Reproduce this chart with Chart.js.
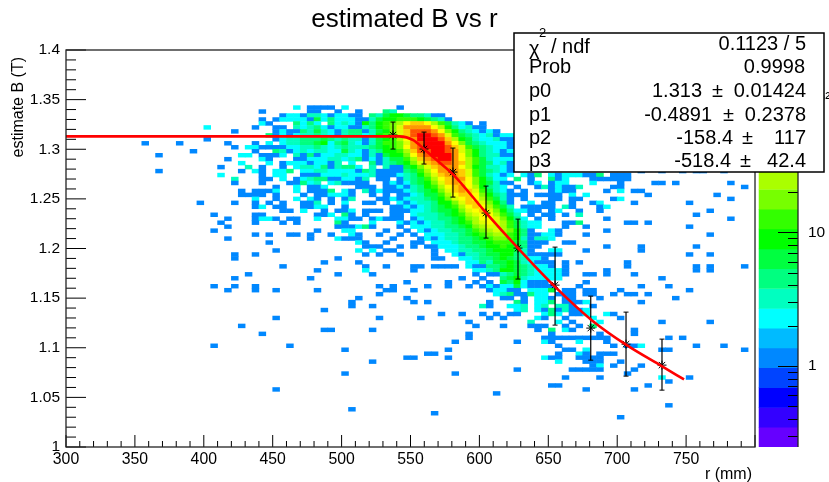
<!DOCTYPE html>
<html>
<head>
<meta charset="utf-8">
<title>estimated B vs r</title>
<script src="https://cdn.jsdelivr.net/npm/chart.js@4"></script>
<style>
  html, body { margin: 0; padding: 0; background: #fff; }
  canvas { display: block; }
</style>
</head>
<body>
<canvas id="graphCanvas" width="829" height="482"></canvas>
<script>
// TH2 binning: 100 x 100 bins over r 300-800, B 1-1.4
const xBinStart = 300, xBinWidth = 5;
const yBinTop = 1.4, yBinHeight = 0.004;

// Letter codes for the counts
const codeCounts = { a: 1, b: 2, c: 3, d: 4, e: 6, f: 9, g: 13, h: 18, i: 26, j: 36, k: 50, l: 70, m: 100, n: 140, o: 200 };

// One entry per row from the top, starting at row 14. "col:codes", codes run to the right from col
const firstRow = 14;
const histRows = [
  "33:b 35:aaaa 40:b 48:a",
  "28:a 35:aa 39:a 42:a 46:dc",
  "31:abbaccbabbaa 44:dceffeddcaa",
  "28:a 30:abbbbaebdbbbaaceffgggfedca",
  "28:ba 33:dbdb 38:dbcbafdfghikllkigecba 60:a",
  "20:b 27:a 30:aa 33:cbcdbabbaacdfghjmmmmkifdbcaa",
  "24:a 30:abaadcecbacddacefhjlnnnmkhfdcbaba",
  "29:dababccdcbacddbcfghjlnoonmjgedcbcabb",
  "20:a 30:abccdddedcdccacefgikmooonlifecbbcaa",
  "11:a 16:a 23:a 27:a 29:b 31:bccddefbdecbacegghjmnooomkhedcbbba",
  "24:a 26:bbaaaabbccdcbcdcccdefghkmnooonljgedcbba",
  "18:a 27:a 30:dcabcbccbbecbacdffgilnnoonmjhfdcbab",
  "13:a 25:bb 28:aaab 33:cadabbccbbacaeffhkmnooomkhfdccaa",
  "23:a 28:ba 33:aabbbccbcdabaceegilmnoomkigecbbb",
  "25:b 29:b 31:abbbabbac 41:b 44:dacdefhjlmnnmligedbca",
  "22:a 26:c 28:a 31:a 33:bccbdacddb 44:c 46:caaefhjlmmmkifeccba",
  "13:a 25:a 27:ba 30:bbd 34:bbccbbbbadcaaaadegikmmmljgedcba 83:a 86:a 89:a 91:aa 95:a",
  "22:b 28:a 30:bb 34:aaabbbcbbbcaaabcdfhjlmmljgecbab 66:bad 70:babbbaad 79:aaa",
  "24:c 28:aa 31:b 33:abcddaabbac 45:aa 48:acdegiklmmkhfdbb 65:d 67:a 70:dab 76:aaaaaa",
  "24:a 28:a 32:aadbc 38:bcaaaa 46:ababdefhjlmlkhfecaa 67:ab 70:abb 76:b 80:a 85:aa 88:a 96:a",
  "30:a 33:b 35:aab 42:aaa 46:aabacdfgiklmkifdcb 65:a 68:acabaac 79:aa 98:a",
  "25:a 27:aaab 33:b 35:aaad 40:ba 43:cabaaabcdefhjlmljgecba 66:a 70:abaa 78:a 80:b 82:aa",
  "25:aaaa 30:a 34:a 36:aabbba 44:a 46:a 48:aabceegikllkhfdcaaa 68:aaaa 73:b 75:b 84:a 94:a",
  "27:b 30:a 33:b 35:ba 38:a 40:ac 45:aababccdefhjklkigeca 66:a 70:aa 73:aa 79:ab 96:a",
  "19:a 24:a 27:a 29:a 31:a 34:aac 38:a 40:b 43:aa 46:a 48:babccdffhjlljhfda 67:b 69:aa 73:a 76:ab 82:a 90:a",
  "27:ab 30:aa 34:aabb 40:a 47:aababcdefgiklkigec 66:aaaaa 72:ca 77:ab",
  "31:aa 34:b 37:a 39:aab 43:aaa 47:aaabbcdeefhjkljhfdbbaa 70:ab 74:a 77:a 93:a",
  "21:a 27:aa 36:aab 40:da 43:a 47:aa 50:bcccdefgijkkigec 67:a 69:aa 72:a 74:c 91:a",
  "23:a 27:abba 32:aa 36:b 39:bbaa 44:abaaa 50:abccddefhikkjhfdb 68:a 70:a 78:a 96:a",
  "22:a 27:a 31:a 33:a 39:da 44:b 48:bababccdefgijkjigecbb 72:aad 81:aa 84:a",
  "23:a 39:aaabda 48:a 50:bbbccddefhijjigecbb 72:a 75:a 90:a",
  "21:a 36:a 40:bb 46:a 49:a 51:babccddeghijihfda 70:ba 78:a",
  "27:a 29:a 32:aa 35:a 38:a 41:ba 45:a 48:a 50:a 52:bbbccdefghiigfdaabba 75:a 93:a",
  "23:a 35:a 39:baaa 47:a 51:ababccddefghhgfcaccb",
  "29:a 42:ba 46:a 50:aa 53:bbbcddeefgggedaaa 72:aa",
  "43:aaa 48:a 50:a 52:aabbbcddeffgfedaa 78:a 83:a 91:a",
  "30:a 42:b 44:b 46:aa 53:a 55:bbccddefffeca 70:bb 75:a 83:a",
  "24:a 27:a 43:a 45:a 48:a 53:a 56:baccdeeffdcaaaaa 90:a 93:a",
  "24:a 39:a 53:aa 57:bbcddefedcbba",
  "37:a 42:a 58:bbdceefecbaaa 72:a 74:a 81:a",
  "31:a 43:a 46:a 50:aa 53:aaaa 58:baaddefedcbba 72:a 81:a 91:a 93:a 98:a",
  "36:a 43:b 50:a 59:bbcdffedcbbbba 78:a 91:a 93:a",
  "26:a 39:a 44:a 59:a 61:aacdedcbbbba 75:aa 78:a 82:a",
  "24:a 35:a 57:a 60:a 63:defcbbbbb 86:a",
  "49:a 55:a 59:a 61:a 63:edfbaaa 75:a",
  "21:a 24:a 27:a 45:a 47:a 52:a 55:a 58:a 60:ababbebaaaa 74:a 83:a 87:a",
  "23:a 27:a 30:a 36:a 46:aa 50:a 61:abbaa 67:bbbe 72:aa 75:aa 80:a 90:a",
  "45:a 62:bcdaadbb 71:aaa 75:aa 79:a 81:aa 84:a",
  "42:a 49:a 63:aa 66:a 68:bba 72:aa 77:a 88:a",
  "41:a 50:a 52:a 61:a 65:da 68:bbd 72:aaab 83:a",
  "41:a 44:a 60:ca 64:bbc 68:bc 71:cca 76:a",
  "37:a 65:bc 68:badacaab",
  "54:a 57:a 60:a 62:a 64:aa 69:bdb 73:aab 78:ba",
  "30:a 45:a 51:a 61:a 63:a 68:ba 72:a 76:b 80:a",
  "58:a 67:c 71:b 73:a 77:b 86:a 93:a",
  "25:a 59:a 63:a 67:aaa 72:a 74:a 76:d",
  "37:aa 44:a 68:a 70:d 72:ba 82:a",
  "28:a 58:a 70:a 77:a 82:a",
  "58:a 69:aaaaaaaaaa 87:a 89:a",
  "56:a 65:a 69:ba 74:b 78:a",
  "21:a 32:a 71:a 79:a 81:aab 91:a 95:a",
  "40:a 55:a 72:aa 75:b 86:aa 98:a",
  "52:aa 71:a 74:ba 77:aaa",
  "49:aa 55:a 69:baa 74:aaaa",
  "44:a 71:b 75:aaa 80:a",
  "76:ab 79:a 83:a",
  "65:a 73:aaaaa 82:a",
  "40:a 56:a 81:a",
  "72:a 77:a 86:b 90:a",
  "87:a",
  "70:aa 84:a",
  "30:a 75:a 82:a",
  "62:a",
  "",
  "",
  "87:a",
  "41:a",
  "53:a",
  "80:a"
];

// Colour palette and its contour edges on the log z axis
const palette = ['#6600ff', '#3300ff', '#0000ff', '#0044ff', '#0088ff', '#00bbff', '#00ffff', '#00ffc0', '#00ff80', '#00ff40',
  '#00ff00', '#33ff00', '#77ff00', '#aaff00', '#ddff00', '#ffff00', '#ffcc00', '#ff9900', '#ff5500', '#ff0000'];
const zEdges = [0.246, 0.346, 0.487, 0.685, 0.965, 1.36, 1.91, 2.69, 3.79, 5.33, 7.5, 10.6, 14.9, 21, 29.5, 41.5, 58.4, 82.2, 116, 163, 233];
const zTicks = [1, 10, 100];
const zMinorTicks = [0.3, 0.4, 0.5, 0.6, 0.7, 0.8, 0.9, 2, 3, 4, 5, 6, 7, 8, 9, 20, 30, 40, 50, 60, 70, 80, 90, 200];

// Profile points and their error bars
const profileX = [537.3, 559.8, 580.8, 604.8, 628, 654.9, 680.8, 706.4, 732.5];
const profileY = [1.3143, 1.3002, 1.277, 1.2357, 1.2004, 1.1631, 1.1198, 1.1036, 1.0825];
const profileLow = [1.3002, 1.2851, 1.2518, 1.2105, 1.1692, 1.1228, 1.0875, 1.0714, 1.0573];
const profileHigh = [1.3274, 1.3173, 1.3012, 1.2629, 1.2296, 1.2014, 1.152, 1.1359, 1.1087];

// Fit curve
const fitX = [300, 400, 530, 542, 552, 560, 569, 581, 605, 628, 655, 681.5, 706.9, 732.3, 748.5];
const fitY = [1.313, 1.313, 1.313, 1.313, 1.3093, 1.3, 1.2891, 1.2745, 1.2357, 1.2004, 1.1613, 1.1278, 1.1026, 1.0815, 1.0681];

// Stats box rows
const statsNames = ['Prob', 'p0', 'p1', 'p2', 'p3'];
const statsValues = ['0.9998', '1.313', '-0.4891', '-158.4', '-518.4'];
const statsErrors = ['', '0.01424', '0.2378', '117', '42.4'];

const FONT = '"Liberation Sans", Arial, sans-serif';
const X_MAX = 831.2;   // axis carries on past 800 so the colour bar sits on the same canvas area

function colourForCount(count) {
    for (let i = 0; i < palette.length; i++) {
        if (count < zEdges[i + 1]) return palette[i];
    }
    return palette[palette.length - 1];
}

// Turn the row strings into bar data
const cellData = [];
const cellColours = [];
histRows.forEach((line, i) => {
    const row = firstRow + i;
    line.split(' ').filter(Boolean).forEach(token => {
        const [col, codes] = token.split(':');
        codes.split('').forEach((code, k) => {
            const low = yBinTop - (row + 1) * yBinHeight;
            cellData.push({
                x: xBinStart + (Number(col) + k + 0.5) * xBinWidth,
                y: [low, low + yBinHeight]
            });
            cellColours.push(colourForCount(codeCounts[code]));
        });
    });
});

// Axis frame, inward ticks, stats box and axis titles
const rootFrame = {
    id: 'rootFrame',
    afterDatasetsDraw(chart) {
        const c = chart.ctx;
        const { x, y, y2 } = chart.scales;
        const left = x.getPixelForValue(300), right = x.getPixelForValue(800);
        const top = y.getPixelForValue(1.4), bottom = y.getPixelForValue(1);
        c.save();
        c.strokeStyle = '#000';
        c.lineWidth = 1;
        c.beginPath();
        for (let v = 300; v <= 800; v += 10) {
            const px = x.getPixelForValue(v);
            c.moveTo(px, bottom);
            c.lineTo(px, bottom - (v % 50 === 0 ? 12 : 6));
        }
        for (let k = 0; k <= 40; k++) {
            const py = y.getPixelForValue(1 + k * 0.01);
            c.moveTo(left, py);
            c.lineTo(left + (k % 5 === 0 ? 20 : 10), py);
        }
        const barRight = chart.chartArea.right;
        zTicks.concat(zMinorTicks).forEach((v, i) => {
            const py = Math.round(y2.getPixelForValue(v)) + 0.5;
            c.moveTo(barRight, py);
            c.lineTo(barRight - (i < zTicks.length ? 20 : 10), py);
        });
        c.stroke();
        c.strokeStyle = '#222';
        c.lineWidth = 1.3;
        c.strokeRect(left, top, right - left, bottom - top);
        c.beginPath();
        c.moveTo(barRight, top);
        c.lineTo(barRight, bottom);
        c.stroke();
        c.restore();
    },
    afterDraw(chart) {
        const c = chart.ctx;
        c.save();
        c.fillStyle = '#000';
        c.textBaseline = 'alphabetic';

        // axis titles
        c.font = '16px ' + FONT;
        c.textAlign = 'right';
        c.fillText('r (mm)', 752, 479);
        c.save();
        c.translate(23, 57);
        c.rotate(-Math.PI / 2);
        c.fillText('estimate B (T)', 0, 0);
        c.restore();

        // stats box
        c.fillStyle = '#fff';
        c.fillRect(514, 33, 310, 139);
        c.strokeStyle = '#000';
        c.lineWidth = 1.5;
        c.strokeRect(514, 33, 310, 139);
        c.fillStyle = '#000';
        c.font = '20px ' + FONT;
        c.textAlign = 'left';
        c.fillText('\u03c7', 529, 55);
        c.fillText('/ ndf', 551, 52.5);
        c.font = '13px ' + FONT;
        c.fillText('2', 539, 37);
        c.font = '20px ' + FONT;
        c.textAlign = 'right';
        c.fillText('0.1123 / 5', 806, 50);

        const baselines = [73, 97, 120.5, 143.5, 166.5];
        const valueRight = [805, 702, 712, 733, 731];
        const plusLeft = [0, 712, 723, 742, 740];
        statsNames.forEach((name, i) => {
            c.textAlign = 'left';
            c.fillText(name, 529, baselines[i]);
            c.textAlign = 'right';
            c.fillText(statsValues[i], valueRight[i], baselines[i]);
            if (statsErrors[i]) {
                c.fillText(statsErrors[i], 806, baselines[i]);
                c.textAlign = 'left';
                c.fillText('\u00b1', plusLeft[i], baselines[i]);
            }
        });
        c.restore();
    }
};

const ctx = document.getElementById('graphCanvas').getContext('2d');
const chart = new Chart(ctx, {
    type: 'bar',
    plugins: [rootFrame],
    data: {
        datasets: [
            {
                type: 'line',
                label: 'fit',
                data: fitX.map((v, i) => ({ x: v, y: fitY[i] })),
                borderColor: '#ff0000',
                borderWidth: 2.6,
                pointRadius: 0,
                cubicInterpolationMode: 'monotone'
            },
            {
                type: 'scatter',
                label: 'profile',
                data: profileX.map((v, i) => ({ x: v, y: profileY[i] })),
                pointStyle: 'star',
                pointRadius: 4.5,
                pointBorderColor: '#000',
                borderColor: '#000',
                backgroundColor: '#000',
                pointBorderWidth: 1
            },
            {
                type: 'scatter',
                label: 'error caps',
                data: profileX.flatMap((v, i) => [{ x: v, y: profileLow[i] }, { x: v, y: profileHigh[i] }]),
                pointStyle: 'line',
                pointRadius: 2.5,
                borderColor: '#000',
                pointBorderColor: '#000',
                pointBorderWidth: 1
            },
            {
                label: 'error bars',
                data: profileX.map((v, i) => ({ x: v, y: [profileLow[i], profileHigh[i]] })),
                backgroundColor: '#000',
                barThickness: 1.2,
                grouped: false,
                inflateAmount: 0
            },
            {
                label: 'estimated B vs r',
                data: cellData,
                backgroundColor: cellColours,
                barThickness: 7,
                grouped: false,
                inflateAmount: 0.25
            },
            {
                label: 'colour bar',
                data: palette.map((p, i) => ({ x: 817, y: [zEdges[i], zEdges[i + 1]] })),
                backgroundColor: palette,
                yAxisID: 'y2',
                barThickness: 39,
                grouped: false,
                inflateAmount: 0.2
            }
        ]
    },
    options: {
        responsive: false,
        animation: false,
        events: [],
        // negative left padding moves the centred title left of the canvas middle
        layout: { padding: { left: -20 } },
        plugins: {
            legend: { display: false },
            tooltip: { enabled: false },
            title: {
                display: true,
                text: 'estimated B vs r',
                color: '#000',
                font: { family: FONT, size: 26, weight: 'normal', lineHeight: 1.2 },
                padding: { top: 4, bottom: 14.8 }
            }
        },
        scales: {
            x: {
                type: 'linear',
                offset: false,
                min: 300,
                max: X_MAX,
                grid: { display: false, drawTicks: false },
                border: { display: false },
                ticks: {
                    stepSize: 50,
                    autoSkip: false,
                    maxRotation: 0,
                    padding: 3,
                    color: '#000',
                    font: { family: FONT, size: 15.8 }
                },
                afterBuildTicks(scale) {
                    scale.ticks = scale.ticks.filter(t => t.value <= 800);
                },
                afterFit(scale) { scale.height = 35; }
            },
            y: {
                type: 'linear',
                position: 'left',
                min: 1,
                max: 1.4,
                grid: { display: false, drawTicks: false },
                border: { display: false },
                ticks: {
                    stepSize: 0.05,
                    padding: 6,
                    color: '#000',
                    font: { family: FONT, size: 15.5 },
                    callback: v => String(Number(v.toFixed(2)))
                },
                afterFit(scale) { scale.width = 86; }
            },
            y2: {
                type: 'logarithmic',
                position: 'right',
                min: zEdges[0],
                max: zEdges[zEdges.length - 1],
                grid: { display: false, drawTicks: false },
                border: { display: false },
                ticks: {
                    padding: 10,
                    color: '#000',
                    font: { family: FONT, size: 15.5 },
                    callback: v => (v === 100 ? '10\u00b2' : String(v))
                },
                afterBuildTicks(scale) {
                    scale.ticks = zTicks.map(v => ({ value: v, major: true }));
                },
                afterFit(scale) { scale.width = 31; }
            }
        }
    }
});
</script>
</body>
</html>
